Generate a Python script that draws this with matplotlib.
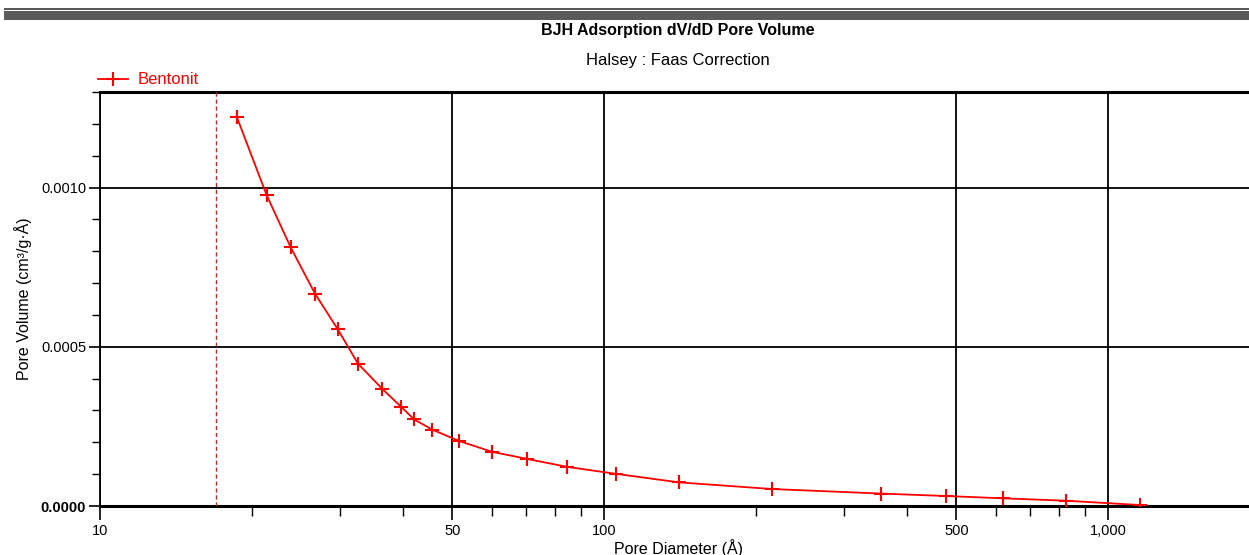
import numpy as np
import matplotlib
matplotlib.use("Agg")
import matplotlib.pyplot as plt
from matplotlib.patches import Rectangle
from matplotlib.ticker import FixedLocator, FuncFormatter, MultipleLocator

plt.rcParams['font.family'] = ['Liberation Sans', 'DejaVu Sans']

# pore diameter (A) and dV/dD pore volume (cm3/g.A)
diameter = [18.7, 21.4, 23.9, 26.7, 29.6, 32.5, 36.3, 39.6, 42.0, 45.6,
            51.6, 60.0, 70.3, 84.4, 105.6, 140.7, 215.4, 355.0, 478.0,
            619.0, 825.0, 1158.0]
volume = [0.001220, 0.000977, 0.000812, 0.000667, 0.000556, 0.000447,
          0.000368, 0.000311, 0.000272, 0.000240, 0.000204, 0.000170,
          0.000148, 0.000123, 0.000101, 0.0000743, 0.0000533, 0.0000390,
          0.0000313, 0.0000241, 0.0000166, 0.0000030]
cutoff = 17.0
x_major = [10, 50, 100, 500, 1000]
x_minor = [20, 30, 40, 60, 70, 80, 90, 200, 300, 400, 600, 700, 800, 900]

fig = plt.figure(figsize=(12.49, 5.55), dpi=100)
ax = fig.add_axes([100 / 1249, 49 / 555, 1149 / 1249, 414 / 555])

# grey header bars
fig.add_artist(Rectangle((4 / 1249, 1 - 9.5 / 555), 1, 1.6 / 555,
                         transform=fig.transFigure, color='#5a5a5a', lw=0))
fig.add_artist(Rectangle((4 / 1249, 1 - 19.5 / 555), 1, 8.5 / 555,
                         transform=fig.transFigure, color='#5a5a5a', lw=0))

fig.text(0.543, 1 - 31 / 555, "BJH Adsorption dV/dD Pore Volume",
         ha='center', va='center', fontsize=11.5, fontweight='bold')
fig.text(0.543, 1 - 60 / 555, "Halsey : Faas Correction",
         ha='center', va='center', fontsize=12)

ax.plot(diameter, volume, color='#ff0000', lw=1.3, marker='+', ms=10,
        mew=1.5, label='Bentonit', zorder=4)
ax.axvline(cutoff, color='#b03030', lw=1, ls=(0, (3, 2)), zorder=3)

ax.set_xscale('log')
ax.set_xlim(10, 10 ** (1 + 1149 / 504))
ax.set_ylim(0, 0.0013)

ax.xaxis.set_major_locator(FixedLocator(x_major))
ax.xaxis.set_minor_locator(FixedLocator(x_minor))
ax.xaxis.set_major_formatter(FuncFormatter(lambda v, p: f"{int(v):,}"))
ax.xaxis.set_minor_formatter(FuncFormatter(lambda v, p: ""))
ax.yaxis.set_major_locator(MultipleLocator(0.0005))
ax.yaxis.set_minor_locator(MultipleLocator(0.0001))
ax.yaxis.set_major_formatter(FuncFormatter(lambda v, p: f"{v:.4f}"))

ax.tick_params(axis='x', which='major', length=10, width=1.2, labelsize=10.5, pad=3)
ax.tick_params(axis='x', which='minor', length=7, width=1)
ax.tick_params(axis='y', which='major', length=8, width=1.2, labelsize=10.5, pad=2)
ax.tick_params(axis='y', which='minor', length=6, width=1)

ax.grid(True, which='major', color='black', lw=1.3)
ax.spines['right'].set_visible(False)
ax.spines['top'].set_linewidth(2.2)
ax.spines['bottom'].set_linewidth(2.2)
ax.spines['left'].set_linewidth(1.3)

ax.set_xlabel("Pore Diameter (Å)", fontsize=11.5, va='center')
ax.xaxis.set_label_coords((678 - 100) / 1149, -(548 - 506) / 414)
ax.set_ylabel("Pore Volume (cm³/g·Å)", fontsize=11.5, labelpad=6)

ax.legend(loc='center left', bbox_to_anchor=(98 / 1249, 1 - 80 / 555),
          bbox_transform=fig.transFigure, frameon=False, fontsize=12,
          labelcolor='#ff0000', handlelength=1.8, handletextpad=0.55,
          borderpad=0, borderaxespad=0)

fig.canvas.draw()
for lab in ax.get_yticklabels():
    if lab.get_text() == "0.0000":
        lab.set_fontweight('bold')

fig.savefig("out.png", dpi=100)
